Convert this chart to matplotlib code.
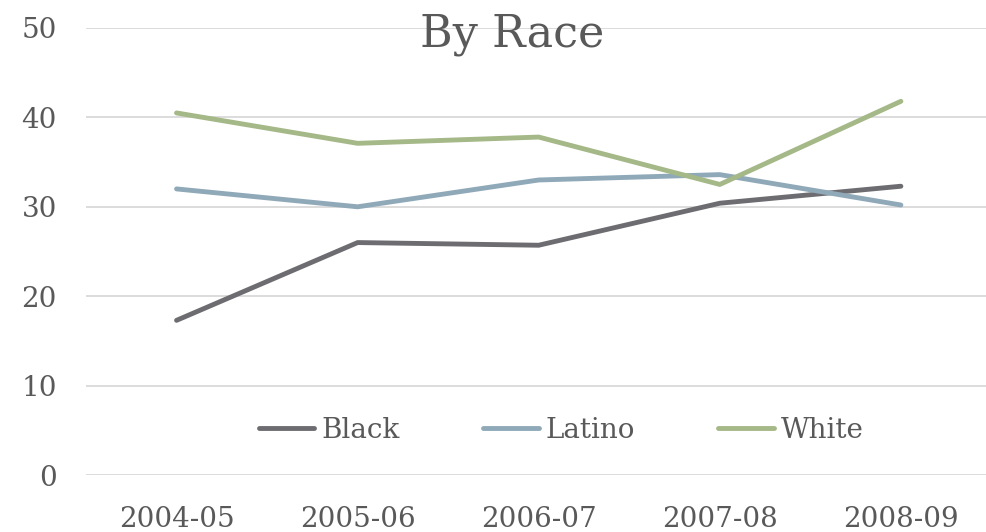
import matplotlib
matplotlib.use("Agg")
import matplotlib.pyplot as plt

years = ["2004-05", "2005-06", "2006-07", "2007-08", "2008-09"]
black = [17.3, 26.0, 25.7, 30.4, 32.3]
latino = [32.0, 30.0, 33.0, 33.6, 30.2]
white = [40.5, 37.1, 37.8, 32.5, 41.8]
y_ticks = [0, 10, 20, 30, 40, 50]

text_color = "#595959"
plt.rcParams["font.family"] = ["DejaVu Serif"]

fig = plt.figure(figsize=(9.86, 5.32), dpi=100)
ax = fig.add_axes([86 / 986, 1 - 475 / 532, 1 - 86 / 986, (475 - 28) / 532])

x = list(range(len(years)))
ax.plot(x, black, color="#6d6c71", lw=3.5, solid_capstyle="round", label="Black")
ax.plot(x, latino, color="#8fa9b9", lw=3.5, solid_capstyle="round", label="Latino")
ax.plot(x, white, color="#a5b887", lw=3.5, solid_capstyle="round", label="White")

ax.set_xlim(-0.5, 4.47)
ax.set_ylim(0, 50)
ax.set_yticks(y_ticks)
ax.set_xticks(x)
ax.set_xticklabels(years)
ax.grid(axis="y", color="#d9d9d9", lw=1.3)
ax.set_axisbelow(True)
for s in ax.spines.values():
    s.set_visible(False)
ax.tick_params(axis="y", length=0, pad=21, labelsize=20, labelcolor=text_color)
ax.tick_params(axis="x", length=0, pad=22, labelsize=20, labelcolor=text_color)

ax.legend(loc="center", bbox_to_anchor=(0.528, 0.10), ncol=3, frameon=False,
          fontsize=20, labelcolor=text_color, handlelength=2.0,
          handletextpad=0.25, columnspacing=3.0)

fig.text(0.519, 1 - 34 / 532, "By Race", ha="center", va="center",
         fontsize=32, color=text_color)

fig.savefig("out.png", dpi=100)
